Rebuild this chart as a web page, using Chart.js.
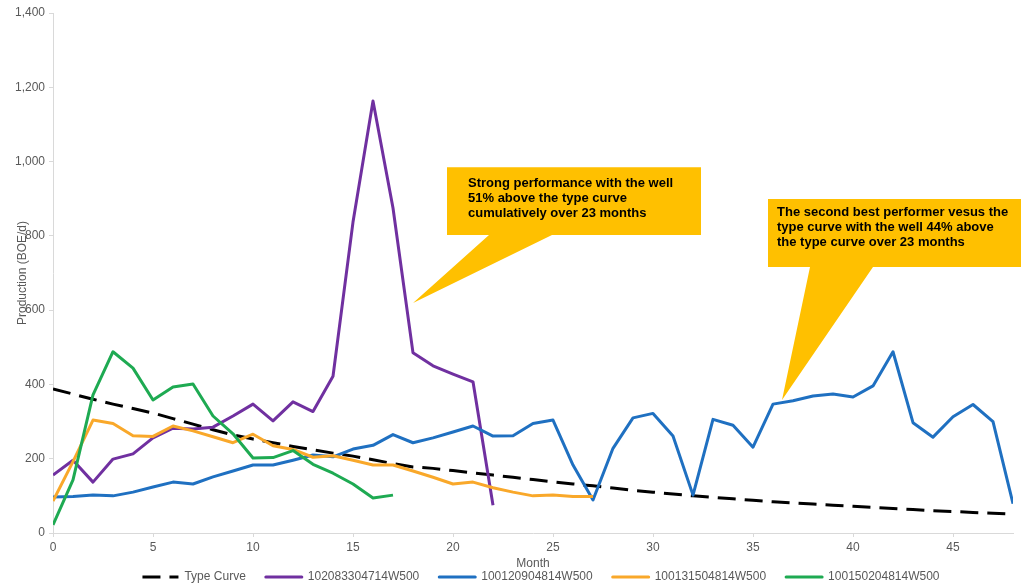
<!DOCTYPE html>
<html>
<head>
<meta charset="utf-8">
<script src="https://cdn.jsdelivr.net/npm/chart.js@4/dist/chart.umd.min.js"></script>
<style>
  html, body { margin: 0; padding: 0; background: #fff; }
  #wrap { width: 1021px; height: 586px; }
</style>
</head>
<body>
<div id="wrap"><canvas id="prodChart"></canvas></div>
<script>
// months on the x axis
const months = [0, 1, 2, 3, 4, 5, 6, 7, 8, 9, 10, 11, 12, 13, 14, 15, 16, 17, 18, 19, 20,
    21, 22, 23, 24, 25, 26, 27, 28, 29, 30, 31, 32, 33, 34, 35, 36, 37, 38, 39, 40,
    41, 42, 43, 44, 45, 46, 47, 48];

// production, BOE/d, one value per month
const typeCurve = [388, 374, 360, 347, 335, 323, 308, 293, 278, 264, 253, 243, 233, 224, 215,
    207, 197, 187, 178, 174, 168, 162, 156, 150, 144, 138, 132, 127, 121, 115, 110, 105,
    100, 96, 92, 88, 84, 81, 78, 75, 72, 69, 66, 63, 60, 58, 55, 53, 51];
const well1 = [156, 196, 137, 199, 213, 256, 282, 280, 285, 315, 347, 302, 353, 327, 422,
    837, 1163, 875, 485, 450, 428, 407, 75];
const well2 = [97, 98, 102, 100, 110, 124, 137, 132, 151, 167, 183, 183, 196, 210, 205,
    226, 236, 265, 243, 256, 272, 288, 261, 262, 295, 304, 183, 89, 228, 310, 322, 261,
    102, 306, 290, 231, 347, 356, 369, 374, 366, 396, 488, 297, 258, 313, 346, 300, 79];
const well3 = [86, 192, 304, 295, 262, 260, 288, 275, 259, 243, 266, 235, 225, 204, 208,
    196, 183, 183, 167, 150, 132, 137, 122, 110, 100, 102, 98, 98];
const well4 = [22, 143, 372, 488, 444, 358, 393, 401, 315, 267, 202, 203, 222, 185, 161,
    132, 94, 102];

const seriesNames = ["Type Curve", "102083304714W500", "100120904814W500", "100131504814W500", "100150204814W500"];
const yTicks = [0, 200, 400, 600, 800, 1000, 1200, 1400];

// callout boxes, anchored in data units (month, BOE/d)
const callouts = [
    {
        box: [19.7, 32.4, 985, 802],
        base: [21.8, 24.95],
        tip: [18, 619],
        textDx: 21, textDy: 16,
        lines: ["Strong performance with the well", "51% above the type curve", "cumulatively over 23 months"]
    },
    {
        box: [35.75, 48.5, 899, 716],
        base: [37.85, 41],
        tip: [36.45, 358],
        textDx: 9, textDy: 13,
        lines: ["The second best performer vesus the", "type curve with the well 44% above", "the type curve over 23 months"]
    }
];

const FONT = "'Liberation Sans', Arial, sans-serif";
const GREY = "#595959";
const AXIS = "#D9D9D9";

const calloutPlugin = {
    id: "callouts",
    afterDatasetsDraw(chart) {
        const { ctx } = chart;
        const x = chart.scales.x, y = chart.scales.y;
        ctx.save();
        callouts.forEach(c => {
            const L = x.getPixelForValue(c.box[0]), R = x.getPixelForValue(c.box[1]);
            const T = y.getPixelForValue(c.box[2]), B = y.getPixelForValue(c.box[3]);
            ctx.fillStyle = "#FFC000";
            ctx.beginPath();
            ctx.moveTo(L, T);
            ctx.lineTo(R, T);
            ctx.lineTo(R, B);
            ctx.lineTo(x.getPixelForValue(c.base[1]), B);
            ctx.lineTo(x.getPixelForValue(c.tip[0]), y.getPixelForValue(c.tip[1]));
            ctx.lineTo(x.getPixelForValue(c.base[0]), B);
            ctx.lineTo(L, B);
            ctx.closePath();
            ctx.fill();
            ctx.fillStyle = "#000";
            ctx.font = "bold 13px " + FONT;
            ctx.textBaseline = "middle";
            ctx.textAlign = "left";
            c.lines.forEach((t, i) => ctx.fillText(t, L + c.textDx, T + c.textDy + i * 15));
        });
        ctx.restore();
    }
};

// nudge the legend to sit where the original has it
const legendShift = {
    id: "legendShift",
    afterLayout(chart) {
        chart.legend.left += 58;
        chart.legend.top -= 8;
    }
};

const ctx = document.getElementById("prodChart").getContext("2d");

const lineDs = (label, data, color, order, extra) => Object.assign({
    label: label,
    data: data,
    borderColor: color,
    backgroundColor: color,
    borderWidth: 3,
    borderJoinStyle: "round",
    pointRadius: 0,
    tension: 0,
    fill: false,
    order: order
}, extra || {});

new Chart(ctx, {
    type: "line",
    data: {
        labels: months,
        datasets: [
            lineDs(seriesNames[0], typeCurve, "#000000", 5, { borderDash: [18, 9], borderJoinStyle: "miter" }),
            lineDs(seriesNames[1], well1, "#7030A0", 4),
            lineDs(seriesNames[2], well2, "#1F70C1", 3),
            lineDs(seriesNames[3], well3, "#F9A82A", 2),
            lineDs(seriesNames[4], well4, "#1EAA52", 1)
        ]
    },
    options: {
        responsive: true,
        maintainAspectRatio: false,
        animation: false,
        layout: {
            padding: { left: 11, right: 8, top: 13, bottom: 0 }
        },
        plugins: {
            tooltip: { enabled: false },
            legend: {
                display: true,
                position: "bottom",
                maxHeight: 27,
                labels: {
                    boxWidth: 36,
                    boxHeight: 0,
                    padding: 20,
                    color: GREY,
                    font: { family: FONT, size: 12 },
                    sort: (a, b) => a.datasetIndex - b.datasetIndex
                }
            }
        },
        scales: {
            x: {
                type: "linear",
                min: 0,
                max: 48,
                afterBuildTicks: s => { s.ticks = s.ticks.filter(t => t.value % 5 === 0); },
                afterFit: s => { s.height = 26; },
                ticks: {
                    stepSize: 5,
                    autoSkip: false,
                    maxRotation: 0,
                    padding: 3,
                    color: GREY,
                    font: { family: FONT, size: 12 }
                },
                grid: { drawOnChartArea: false, drawTicks: true, tickLength: 4, color: AXIS },
                border: { color: AXIS, width: 1 },
                title: {
                    display: true,
                    text: "Month",
                    color: GREY,
                    font: { family: FONT, size: 12 },
                    padding: { top: 0, bottom: -12 }
                }
            },
            y: {
                min: 0,
                max: 1400,
                afterBuildTicks: s => { s.ticks = yTicks.map(v => ({ value: v })); },
                afterFit: s => { s.width = 42; },
                ticks: {
                    padding: 4,
                    color: GREY,
                    font: { family: FONT, size: 12 }
                },
                grid: { drawOnChartArea: false, drawTicks: true, tickLength: 4, color: AXIS },
                border: { color: AXIS, width: 1 },
                title: {
                    display: true,
                    text: "Production (BOE/d)",
                    color: GREY,
                    font: { family: FONT, size: 12 },
                    padding: { top: 4, bottom: 0 }
                }
            }
        }
    },
    plugins: [calloutPlugin, legendShift]
});
</script>
</body>
</html>
